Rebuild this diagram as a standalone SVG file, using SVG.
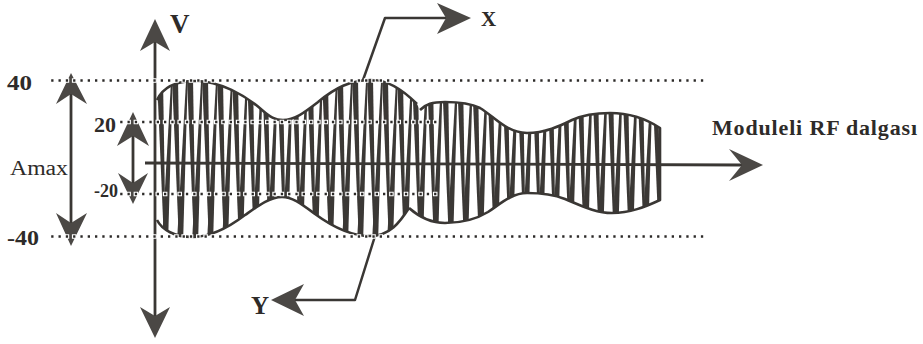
<svg xmlns="http://www.w3.org/2000/svg" width="923" height="344" viewBox="0 0 923 344">
<style>
.ln{stroke:#3a3734;stroke-width:2.5;fill:none;stroke-linecap:round;stroke-linejoin:round}
.ax{stroke:#3a3734;stroke-width:2.8;fill:none}
.hd{fill:#4b4845}
.env{stroke:#3a3734;stroke-width:2.6;fill:none;stroke-linejoin:round}
.wdot{stroke:#ffffff;stroke-width:4.6;stroke-dasharray:4.6 2.7;fill:none}
.dot{stroke:#2c2a28;stroke-width:2.5;stroke-dasharray:2.3 5;stroke-dashoffset:-1.2;fill:none}
text{font-family:"Liberation Serif","Times New Roman",serif;fill:#2e2b29}
.b{font-weight:bold}
</style>
<defs>
<pattern id="carrier" patternUnits="userSpaceOnUse" x="157" y="78" width="15" height="160">
<g fill="#3b3835">
<polygon points="0,0 6,0 8.6,160 6.8,160"/>
<polygon points="14.2,0 15.8,0 11.2,160 5.2,160"/>
<polygon points="-0.8,0 0.8,0 -3.8,160 -9.8,160"/>
<polygon points="15,0 21,0 23.6,160 21.8,160"/>
</g>
</pattern>
<clipPath id="envclip">
<path d="M157,100 C163,87 175,81 195,81 C220,81 245,95 262,110 C270,117 275,120 283,120 C295,120 305,112 318,102 C335,88 350,80 372,80 C390,80 405,92 417,104 L420,110 C426,104 432,102 445,102 C460,102 470,103 480,108 C495,117 505,132 527,133 C545,133 560,126 572,120 C585,114 598,113 610,113 C630,113 645,118 660,128 L660,200 C645,207 630,213 612,213 C595,213 580,205 565,199 C555,195 540,193 527,193 C512,193 500,204 488,212 C475,220 462,223 445,223 C430,223 418,216 409,208 C400,222 390,236 370,236 C350,236 330,225 315,214 C300,203 292,197 282,197 C270,197 258,206 245,215 C228,228 210,237 192,237 C175,237 162,230 157,220 Z"/>
</clipPath>
</defs>
<rect width="923" height="344" fill="#ffffff"/>

<g id="waveform">
<rect x="155" y="76" width="510" height="166" fill="url(#carrier)" clip-path="url(#envclip)"/>
<path class="env" d="M157,100 C163,87 175,81 195,81 C220,81 245,95 262,110 C270,117 275,120 283,120 C295,120 305,112 318,102 C335,88 350,80 372,80 C390,80 405,92 417,104"/>
<path class="env" d="M420,110 C426,104 432,102 445,102 C460,102 470,103 480,108 C495,117 505,132 527,133 C545,133 560,126 572,120 C585,114 598,113 610,113 C630,113 645,118 660,128 L660,200 C645,207 630,213 612,213 C595,213 580,205 565,199 C555,195 540,193 527,193 C512,193 500,204 488,212 C475,220 462,223 445,223 C430,223 418,216 409,208"/>
<path class="env" d="M409,208 C400,222 390,236 370,236 C350,236 330,225 315,214 C300,203 292,197 282,197 C270,197 258,206 245,215 C228,228 210,237 192,237 C175,237 162,230 157,220"/>
</g>

<g id="connectors">
<g id="h-axis">
<line class="ax" x1="145" y1="163" x2="742" y2="165"/>
<polygon class="hd" points="763,165 729,149 742,165 729,181"/>
</g>
<g id="v-axis">
<line class="ax" x1="155" y1="40" x2="155" y2="320"/>
<polygon class="hd" points="155,19 140,51 155,42 170,51"/>
<polygon class="hd" points="155,338 140,307 155,316 170,307"/>
</g>
<g id="amax-arrow">
<line class="ax" x1="71" y1="92" x2="71" y2="226"/>
<polygon class="hd" points="71,73 56,104 71,94 87,104"/>
<polygon class="hd" points="71,246 56,213 71,223 87,213"/>
</g>
<g id="range20-arrow">
<line class="ax" x1="133" y1="132" x2="133" y2="186"/>
<polygon class="hd" points="133,112 117,146 133,136 149,146"/>
<polygon class="hd" points="133,204 118,173 133,183 148,173"/>
</g>
<g id="leader-x">
<polyline class="ln" points="363,80 385,18 445,18"/>
<polygon class="hd" points="471,18 437,3 446,18 437,34"/>
</g>
<g id="leader-y">
<polyline class="ln" points="375,236 355,300 296,300"/>
<polygon class="hd" points="271,300 304,284 295,300 304,316"/>
</g>
</g>

<g id="levels">
<line class="wdot" x1="50" y1="80.5" x2="706" y2="80.5"/>
<line class="dot" x1="50" y1="80.5" x2="706" y2="80.5"/>
<line class="wdot" x1="50" y1="236.5" x2="706" y2="236.5"/>
<line class="dot" x1="50" y1="236.5" x2="706" y2="236.5"/>
<line class="wdot" x1="119" y1="122" x2="440" y2="122"/>
<line class="dot" x1="119" y1="122" x2="440" y2="122"/>
<line class="wdot" x1="119" y1="194" x2="440" y2="194"/>
<line class="dot" x1="119" y1="194" x2="440" y2="194"/>
</g>

<g id="label-v"><text class="b" x="170" y="33" font-size="27">V</text></g>
<g id="label-x"><text class="b" x="481" y="26" font-size="21">X</text></g>
<g id="label-y"><text class="b" x="251" y="314" font-size="25">Y</text></g>
<g id="label-40"><text class="b" x="7" y="90" font-size="21" textLength="25" lengthAdjust="spacingAndGlyphs">40</text></g>
<g id="label-m40"><text class="b" x="7" y="245" font-size="21" textLength="32" lengthAdjust="spacingAndGlyphs">-40</text></g>
<g id="label-20"><text class="b" x="94" y="132" font-size="20" textLength="22" lengthAdjust="spacingAndGlyphs">20</text></g>
<g id="label-m20"><text class="b" x="94" y="197" font-size="19" textLength="24" lengthAdjust="spacingAndGlyphs">-20</text></g>
<g id="label-amax"><text x="10" y="175" font-size="20" textLength="58" lengthAdjust="spacingAndGlyphs">Amax</text></g>
<g id="label-rf"><text class="b" x="712" y="135" font-size="22" textLength="205" lengthAdjust="spacing">Moduleli RF dalgası</text></g>
</svg>
